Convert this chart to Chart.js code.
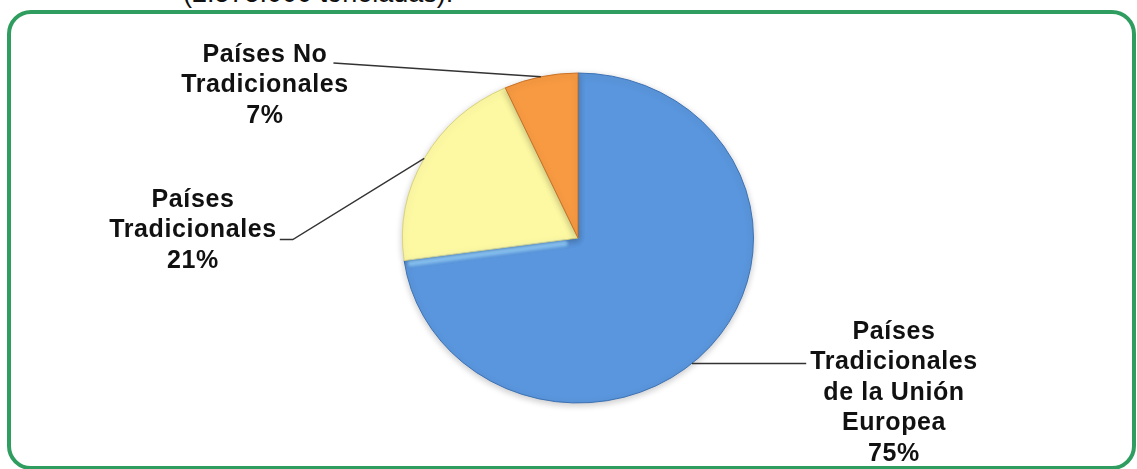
<!DOCTYPE html>
<html lang="es">
<head>
    <meta charset="UTF-8">
    <title>Exportaciones por destino</title>
    <script src="https://cdn.jsdelivr.net/npm/chart.js"></script>
    <style>
        body {
            margin: 0;
            width: 1137px;
            height: 469px;
            overflow: hidden;
            background-color: #ffffff;
            position: relative;
            font-family: "Liberation Sans", Arial, sans-serif;
        }
        .header {
            position: absolute;
            left: 183px;
            top: -20px;
            font-size: 27px;
            line-height: 27px;
            color: #111;
            white-space: nowrap;
        }
        .frame {
            position: absolute;
            left: 7px;
            top: 10px;
            width: 1129px;
            height: 460px;
            box-sizing: border-box;
            border: 4px solid #2f9d5f;
            border-radius: 24px;
        }
        #chartContainer {
            position: absolute;
            left: 0;
            top: 0;
            width: 1137px;
            height: 469px;
        }
    </style>
</head>
<body>

    <div class="header">(2.575.000 toneladas).</div>
    <div class="frame"></div>
    <div id="chartContainer">
        <canvas id="pieChart"></canvas>
    </div>

    <script>
        // Share of exports by destination (%)
        const categories = [
            ['Países', 'Tradicionales', 'de la Unión', 'Europea'],
            ['Países', 'Tradicionales'],
            ['Países No', 'Tradicionales']
        ];
        const shares = [75, 21, 7];

        const sliceColors = ['#5a96dd', '#fdf9a3', '#f79a42'];
        const rimColors = ['#3b6fb3', '#d9d27c', '#c76f25'];

        // vertical squash of the pie
        const squash = 0.94;

        // where each label block sits, relative to the pie centre
        const labelPlaces = [
            { dx: 316, dy: 94, leader: 'horizontal', line: 1 },
            { dx: -385, dy: -38, leader: 'elbow', line: 1 },
            { dx: -313, dy: -183, leader: 'straight', line: 0 }
        ];

        const lineHeight = 30.5;
        const labelFont = 'bold 25px "Liberation Sans", Arial, sans-serif';

        // light catches the straight edges that face upwards
        function drawBevel(ctx, arcs) {
            ctx.save();
            ctx.shadowColor = 'transparent';
            ctx.filter = 'blur(1.5px)';
            ctx.lineCap = 'round';
            arcs.forEach(arc => {
                const p = arc.getProps(['x', 'y', 'startAngle', 'endAngle', 'outerRadius'], true);
                [[p.startAngle, 1], [p.endAngle, -1]].forEach(([a, side]) => {
                    const n = a + side * Math.PI / 2;
                    if (Math.sin(n) < 0.5) return;
                    const ox = Math.cos(n) * 4, oy = Math.sin(n) * 4;
                    ctx.beginPath();
                    ctx.moveTo(p.x + Math.cos(a) * 14 + ox, p.y + Math.sin(a) * 14 + oy);
                    ctx.lineTo(p.x + Math.cos(a) * (p.outerRadius - 6) + ox, p.y + Math.sin(a) * (p.outerRadius - 6) + oy);
                    ctx.strokeStyle = 'rgba(150, 208, 250, 0.75)';
                    ctx.lineWidth = 6;
                    ctx.stroke();
                });
            });
            ctx.restore();
        }

        const ellipsePlugin = {
            id: 'ellipse',
            beforeDatasetsDraw(chart) {
                const arc = chart.getDatasetMeta(0).data[0];
                const ctx = chart.ctx;
                ctx.save();
                ctx.translate(arc.x, arc.y);
                ctx.scale(1, squash);
                ctx.translate(-arc.x, -arc.y);
                ctx.shadowColor = 'rgba(0, 0, 0, 0.22)';
                ctx.shadowBlur = 7;
                ctx.shadowOffsetY = 2;
            },
            afterDatasetsDraw(chart) {
                drawBevel(chart.ctx, chart.getDatasetMeta(0).data);
                chart.ctx.restore();
            }
        };

        const outsideLabels = {
            id: 'outsideLabels',
            afterDatasetsDraw(chart) {
                const ctx = chart.ctx;
                const arcs = chart.getDatasetMeta(0).data;
                ctx.save();
                ctx.font = labelFont;
                ctx.letterSpacing = '0.6px';
                ctx.fillStyle = '#111';
                ctx.textAlign = 'center';
                ctx.textBaseline = 'middle';
                ctx.strokeStyle = '#333';
                ctx.lineWidth = 1.4;

                arcs.forEach((arc, i) => {
                    const p = arc.getProps(['x', 'y', 'startAngle', 'endAngle', 'outerRadius'], true);
                    const place = labelPlaces[i];
                    const lines = categories[i].concat([shares[i] + '%']);
                    const cx = p.x + place.dx;
                    const top = p.y + place.dy;
                    const rx = p.outerRadius;
                    const ry = p.outerRadius * squash;

                    lines.forEach((t, k) => ctx.fillText(t, cx, top + k * lineHeight));

                    const hook = lines[place.line];
                    const w = ctx.measureText(hook).width;
                    const ly = top + place.line * lineHeight;
                    const mid = (p.startAngle + p.endAngle) / 2;
                    const ex = p.x + Math.cos(mid) * rx;
                    const ey = p.y + Math.sin(mid) * ry;

                    ctx.beginPath();
                    if (place.leader === 'horizontal') {
                        const yy = ly + 1;
                        const t = (yy - p.y) / ry;
                        const edgeX = p.x + rx * Math.sqrt(Math.max(0, 1 - t * t));
                        ctx.moveTo(cx - w / 2 - 4, yy);
                        ctx.lineTo(edgeX, yy);
                    } else if (place.leader === 'elbow') {
                        const by = ly + 9;
                        ctx.moveTo(cx + w / 2 + 3, by);
                        ctx.lineTo(cx + w / 2 + 16, by);
                        ctx.lineTo(ex, ey);
                    } else {
                        const by = ly + 8;
                        ctx.moveTo(cx + w / 2 + 6, by);
                        ctx.lineTo(ex, ey);
                    }
                    ctx.stroke();
                });
                ctx.restore();
            }
        };

        function sliceFill(context) {
            const chart = context.chart;
            const arc = chart.getDatasetMeta(0).data[context.dataIndex];
            if (!arc || !arc.outerRadius) {
                return sliceColors[context.dataIndex];
            }
            const g = chart.ctx.createRadialGradient(arc.x, arc.y, 0, arc.x, arc.y, arc.outerRadius);
            g.addColorStop(0, sliceColors[context.dataIndex]);
            g.addColorStop(0.9, sliceColors[context.dataIndex]);
            g.addColorStop(1, rimColors[context.dataIndex]);
            return g;
        }

        const ctx = document.getElementById('pieChart').getContext('2d');
        const pieChart = new Chart(ctx, {
            type: 'pie',
            data: {
                labels: categories.map(c => c.join(' ')),
                datasets: [{
                    data: shares,
                    backgroundColor: sliceFill,
                    borderColor: rimColors,
                    borderWidth: 1
                }]
            },
            options: {
                responsive: true,
                maintainAspectRatio: false,
                animation: false,
                layout: {
                    padding: { left: 402, right: 383, top: 62, bottom: 55 }
                },
                plugins: {
                    legend: { display: false },
                    tooltip: { enabled: false }
                }
            },
            plugins: [ellipsePlugin, outsideLabels]
        });
    </script>

</body>
</html>
